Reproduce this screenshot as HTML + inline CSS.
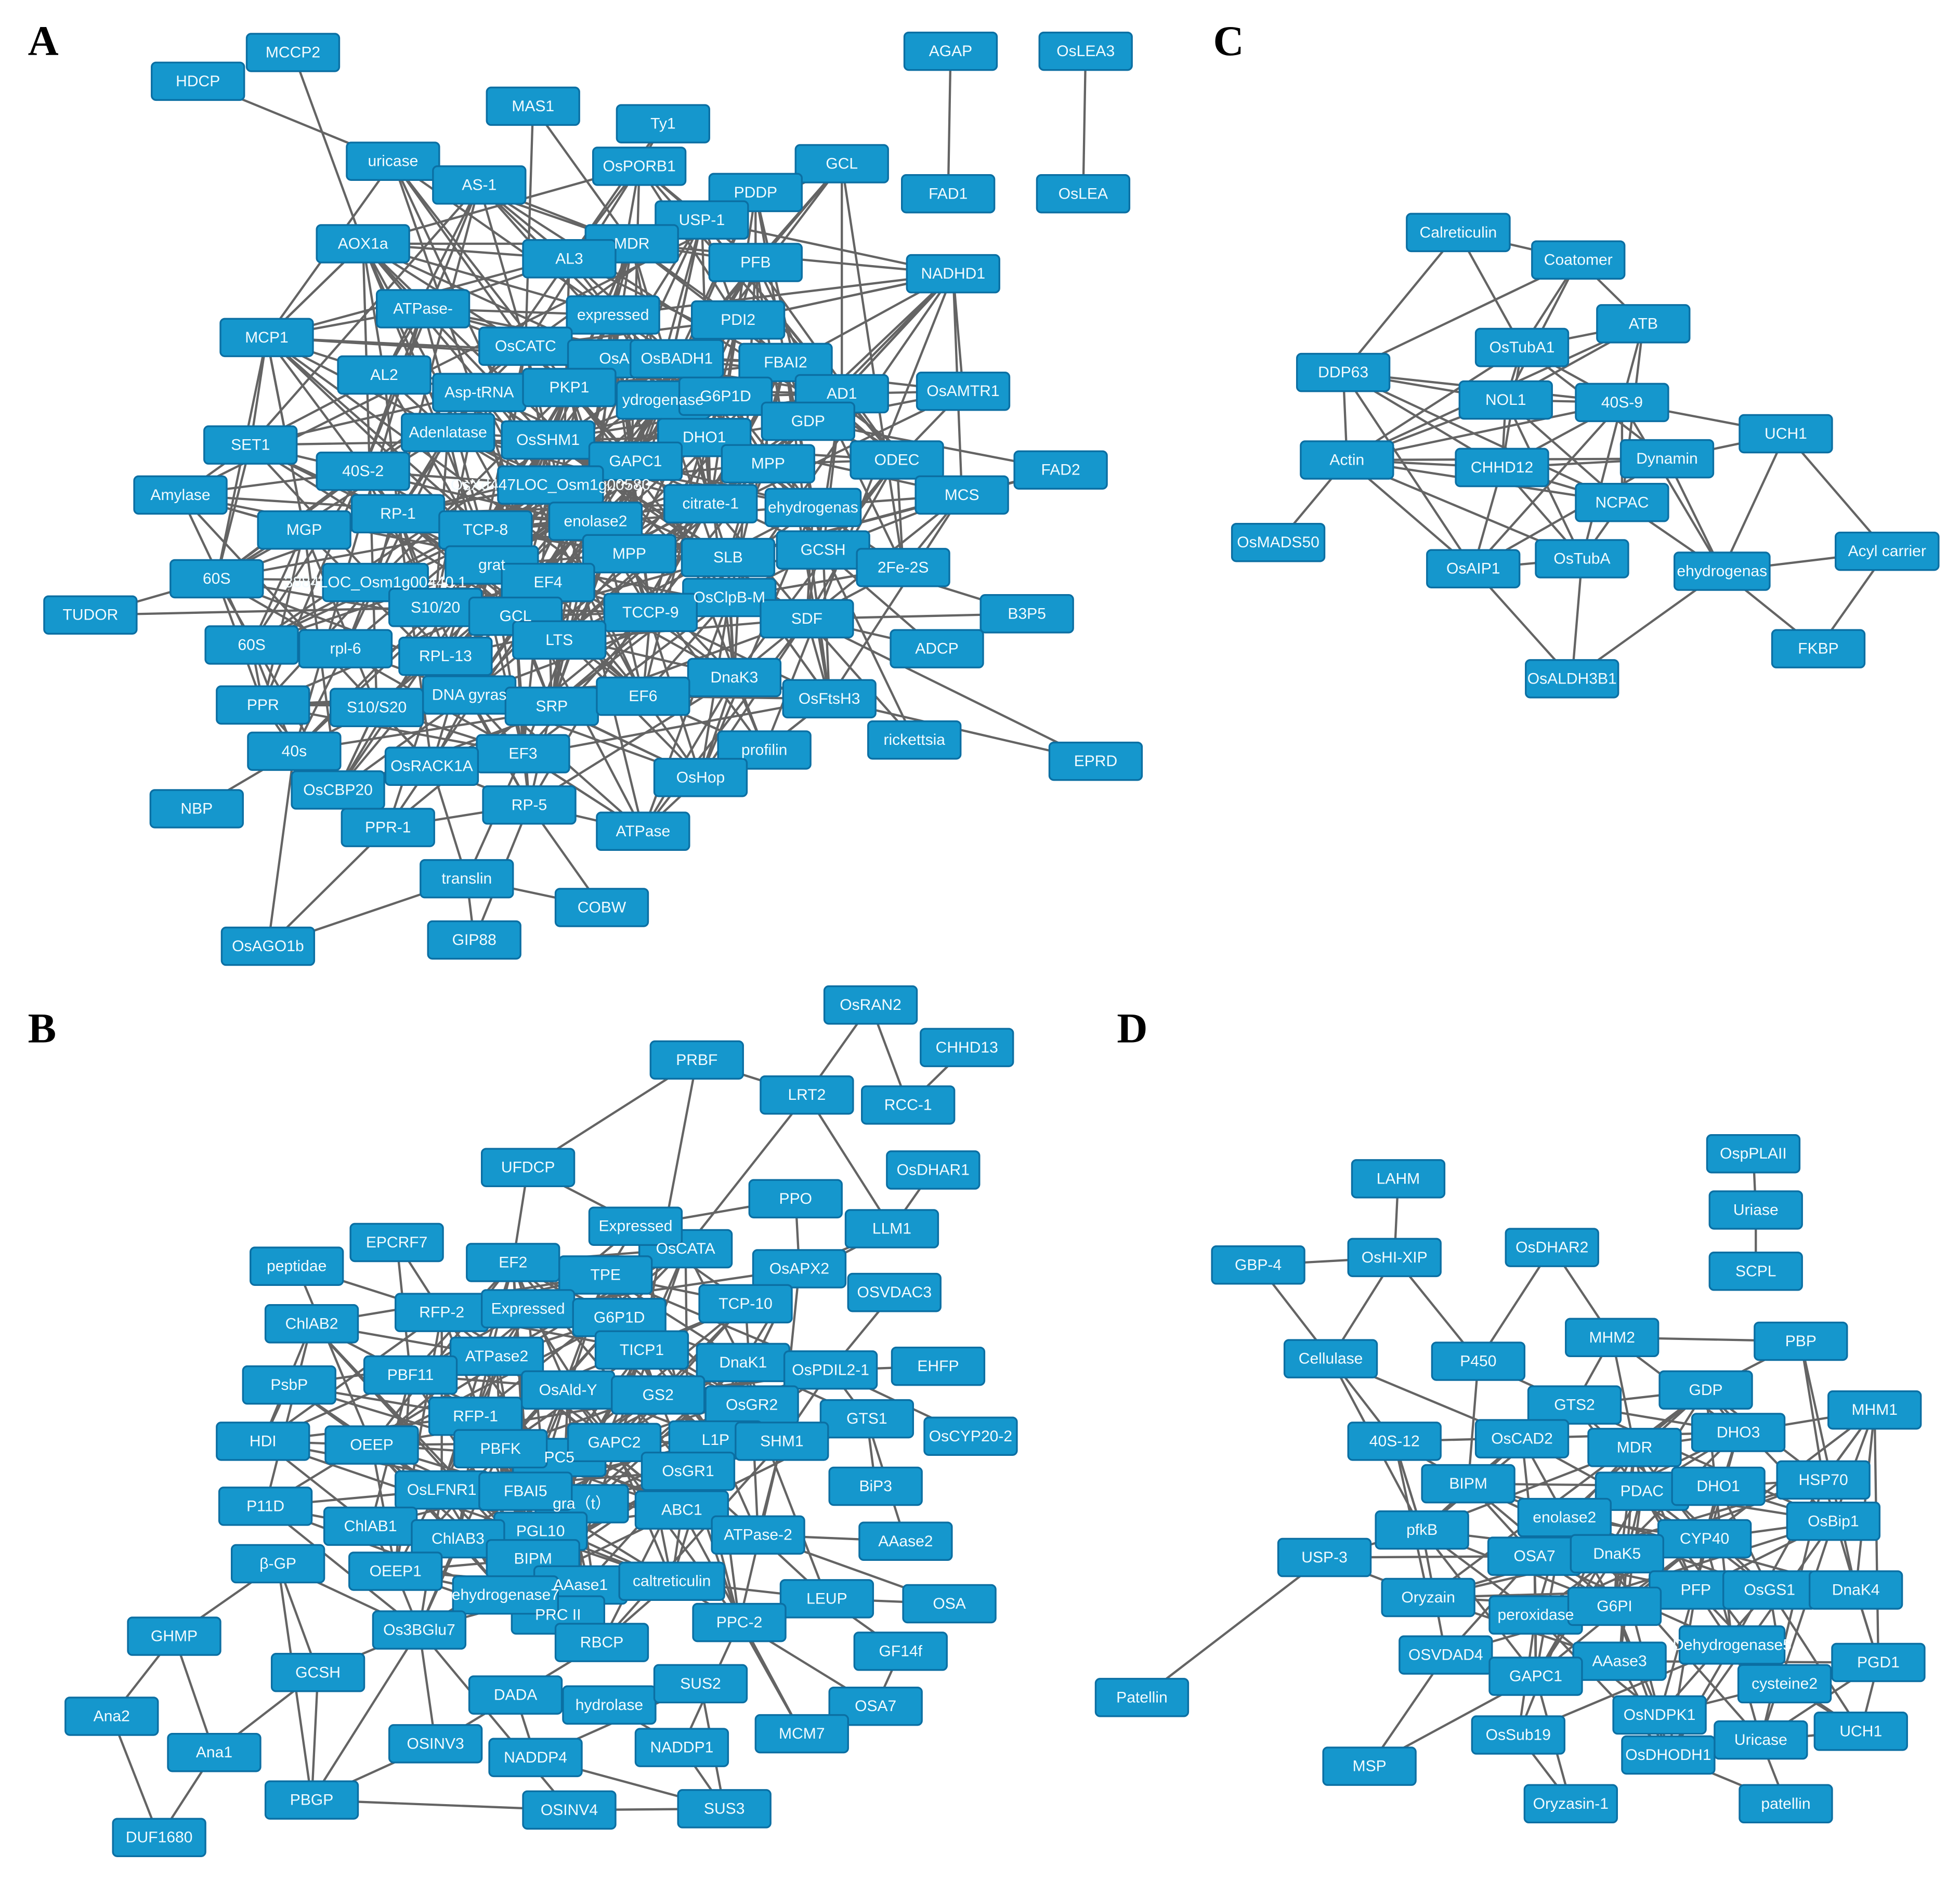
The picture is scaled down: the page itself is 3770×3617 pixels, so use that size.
<!DOCTYPE html>
<html><head><meta charset="utf-8"><style>
html,body{margin:0;padding:0;background:#fff;}
svg{display:block;}
.lab text{font-family:"Liberation Sans",sans-serif;font-size:12.5px;fill:#f2fbff;text-anchor:middle;dominant-baseline:central;}
.big{font-family:"Liberation Serif",serif;font-weight:bold;font-size:34px;fill:#000;}
</style></head><body>
<svg id="s" width="3770" height="3617" viewBox="0 0 1567 1504" xmlns="http://www.w3.org/2000/svg">
<g id="edges" stroke="#646464" stroke-width="1.8" fill="none"></g>
<g id="rects"></g>
<text class="big" x="22" y="44">A</text>
<text class="big" x="970" y="44">C</text>
<text class="big" x="22" y="834">B</text>
<text class="big" x="893" y="834">D</text>
<g class="lab" id="A">
<text x="158" y="65">HDCP</text><text x="234" y="42">MCCP2</text><text x="760" y="41">AGAP</text><text x="868" y="41">OsLEA3</text>
<text x="426" y="85">MAS1</text><text x="530" y="99">Ty1</text><text x="314" y="129">uricase</text><text x="383" y="148">AS-1</text>
<text x="511" y="133">OsPORB1</text><text x="673" y="131">GCL</text><text x="758" y="155">FAD1</text><text x="866" y="155">OsLEA</text>
<text x="604" y="154">PDDP</text><text x="561" y="176">USP-1</text><text x="290" y="195">AOX1a</text><text x="505" y="195">MDR</text>
<text x="455" y="207">AL3</text><text x="604" y="210">PFB</text><text x="762" y="219">NADHD1</text><text x="338" y="247">ATPase-</text>
<text x="490" y="252">expressed</text><text x="590" y="256">PDI2</text><text x="213" y="270">MCP1</text><text x="420" y="277">OsCATC</text>
<text x="491" y="287">OsA</text><text x="541" y="287">OsBADH1</text><text x="628" y="290">FBAI2</text><text x="307" y="300">AL2</text>
<text x="383" y="314">Asp-tRNA</text><text x="455" y="310">PKP1</text><text x="530" y="320">ydrogenase</text><text x="580" y="317">G6P1D</text>
<text x="673" y="315">AD1</text><text x="770" y="313">OsAMTR1</text><text x="358" y="346">Adenlatase</text><text x="438" y="352">OsSHM1</text>
<text x="563" y="350">DHO1</text><text x="646" y="337">GDP</text><text x="200" y="356">SET1</text><text x="508" y="369">GAPC1</text>
<text x="614" y="371">MPP</text><text x="717" y="368">ODEC</text><text x="848" y="376">FAD2</text><text x="290" y="377">40S-2</text>
<text x="440" y="388">OsXd447LOC_Osm1g00580</text><text x="144" y="396">Amylase</text><text x="318" y="411">RP-1</text><text x="568" y="403">citrate-1</text>
<text x="650" y="406">ehydrogenas</text><text x="769" y="396">MCS</text><text x="243" y="424">MGP</text><text x="388" y="424">TCP-8</text>
<text x="476" y="417">enolase2</text><text x="658" y="440">GCSH</text><text x="503" y="443">MPP</text><text x="582" y="446">SLB</text>
<text x="722" y="454">2Fe-2S</text><text x="173" y="463">60S</text><text x="300" y="466">3884LOC_Osm1g00440.1</text><text x="393" y="452">grat</text>
<text x="438" y="466">EF4</text><text x="348" y="486">S10/20</text><text x="412" y="493">GCL</text><text x="583" y="478">OsClpB-M</text>
<text x="520" y="490">TCCP-9</text><text x="645" y="495">SDF</text><text x="821" y="491">B3P5</text><text x="72" y="492">TUDOR</text>
<text x="201" y="516">60S</text><text x="276" y="519">rpl-6</text><text x="356" y="525">RPL-13</text><text x="447" y="512">LTS</text>
<text x="749" y="519">ADCP</text><text x="587" y="542">DnaK3</text><text x="375" y="556">DNA gyras</text><text x="441" y="565">SRP</text>
<text x="514" y="557">EF6</text><text x="663" y="559">OsFtsH3</text><text x="210" y="564">PPR</text><text x="301" y="566">S10/S20</text>
<text x="235" y="601">40s</text><text x="418" y="603">EF3</text><text x="345" y="613">OsRACK1A</text><text x="611" y="600">profilin</text>
<text x="731" y="592">rickettsia</text><text x="876" y="609">EPRD</text><text x="560" y="622">OsHop</text><text x="270" y="632">OsCBP20</text>
<text x="423" y="644">RP-5</text><text x="157" y="647">NBP</text><text x="310" y="662">PPR-1</text><text x="514" y="665">ATPase</text>
<text x="373" y="703">translin</text><text x="481" y="726">COBW</text><text x="379" y="752">GIP88</text><text x="214" y="757">OsAGO1b</text>
</g>
<g class="lab" id="B">
<text x="696" y="804">OsRAN2</text><text x="773" y="838">CHHD13</text><text x="557" y="848">PRBF</text><text x="645" y="876">LRT2</text>
<text x="726" y="884">RCC-1</text><text x="422" y="934">UFDCP</text><text x="746" y="936">OsDHAR1</text><text x="636" y="959">PPO</text>
<text x="713" y="983">LLM1</text><text x="317" y="994">EPCRF7</text><text x="548" y="999">OsCATA</text><text x="508" y="981">Expressed</text>
<text x="410" y="1010">EF2</text><text x="237" y="1013">peptidae</text><text x="484" y="1020">TPE</text><text x="639" y="1015">OsAPX2</text>
<text x="715" y="1034">OSVDAC3</text><text x="353" y="1050">RFP-2</text><text x="422" y="1047">Expressed</text><text x="495" y="1054">G6P1D</text>
<text x="596" y="1043">TCP-10</text><text x="249" y="1059">ChlAB2</text><text x="397" y="1085">ATPase2</text><text x="513" y="1080">TICP1</text>
<text x="594" y="1090">DnaK1</text><text x="664" y="1096">OsPDIL2-1</text><text x="750" y="1093">EHFP</text><text x="231" y="1108">PsbP</text>
<text x="328" y="1100">PBF11</text><text x="454" y="1112">OsAld-Y</text><text x="526" y="1116">GS2</text><text x="601" y="1124">OsGR2</text>
<text x="693" y="1135">GTS1</text><text x="380" y="1133">RFP-1</text><text x="210" y="1153">HDI</text><text x="297" y="1156">OEEP</text>
<text x="447" y="1166">PC5</text><text x="491" y="1154">GAPC2</text><text x="400" y="1159">PBFK</text><text x="572" y="1152">L1P</text>
<text x="625" y="1153">SHM1</text><text x="776" y="1149">OsCYP20-2</text><text x="550" y="1177">OsGR1</text><text x="465" y="1203">gra（t）</text>
<text x="353" y="1192">OsLFNR1</text><text x="420" y="1193">FBAI5</text><text x="700" y="1189">BiP3</text>
<text x="212" y="1205">P11D</text><text x="545" y="1208">ABC1</text><text x="296" y="1221">ChlAB1</text><text x="432" y="1225">PGL10</text>
<text x="366" y="1231">ChlAB3</text><text x="606" y="1228">ATPase-2</text><text x="724" y="1233">AAase2</text><text x="222" y="1251">β-GP</text>
<text x="426" y="1247">BIPM</text><text x="316" y="1257">OEEP1</text><text x="464" y="1268">AAase1</text><text x="537" y="1265">caltreticulin</text>
<text x="446" y="1292">PRC II</text><text x="404" y="1276">ehydrogenase7</text><text x="661" y="1279">LEUP</text><text x="759" y="1283">OSA</text>
<text x="139" y="1309">GHMP</text><text x="335" y="1304">Os3BGlu7</text><text x="481" y="1314">RBCP</text><text x="591" y="1298">PPC-2</text>
<text x="720" y="1321">GF14f</text><text x="254" y="1338">GCSH</text><text x="412" y="1356">DADA</text><text x="487" y="1364">hydrolase</text>
<text x="560" y="1347">SUS2</text><text x="700" y="1365">OSA7</text><text x="641" y="1387">MCM7</text><text x="89" y="1373">Ana2</text>
<text x="171" y="1402">Ana1</text><text x="348" y="1395">OSINV3</text><text x="428" y="1406">NADDP4</text><text x="545" y="1398">NADDP1</text>
<text x="249" y="1440">PBGP</text><text x="455" y="1448">OSINV4</text><text x="579" y="1447">SUS3</text><text x="127" y="1470">DUF1680</text>
</g>
<g class="lab" id="C">
<text x="1166" y="186">Calreticulin</text><text x="1262" y="208">Coatomer</text><text x="1314" y="259">ATB</text><text x="1217" y="278">OsTubA1</text>
<text x="1074" y="298">DDP63</text><text x="1204" y="320">NOL1</text><text x="1297" y="322">40S-9</text><text x="1428" y="347">UCH1</text>
<text x="1077" y="368">Actin</text><text x="1201" y="374">CHHD12</text><text x="1333" y="367">Dynamin</text><text x="1297" y="402">NCPAC</text>
<text x="1022" y="434">OsMADS50</text><text x="1178" y="455">OsAIP1</text><text x="1265" y="447">OsTubA</text><text x="1377" y="457">ehydrogenas</text>
<text x="1509" y="441">Acyl carrier</text><text x="1454" y="519">FKBP</text><text x="1257" y="543">OsALDH3B1</text>
</g>
<g class="lab" id="D">
<text x="1402" y="923">OspPLAII</text><text x="1404" y="968">Uriase</text><text x="1404" y="1017">SCPL</text><text x="1118" y="943">LAHM</text>
<text x="1241" y="998">OsDHAR2</text><text x="1006" y="1012">GBP-4</text><text x="1115" y="1006">OsHI-XIP</text><text x="1064" y="1087">Cellulase</text>
<text x="1182" y="1089">P450</text><text x="1289" y="1070">MHM2</text><text x="1440" y="1073">PBP</text><text x="1259" y="1124">GTS2</text>
<text x="1364" y="1112">GDP</text><text x="1499" y="1128">MHM1</text><text x="1115" y="1153">40S-12</text><text x="1217" y="1151">OsCAD2</text>
<text x="1307" y="1158">MDR</text><text x="1390" y="1146">DHO3</text><text x="1174" y="1187">BIPM</text><text x="1313" y="1193">PDAC</text>
<text x="1374" y="1189">DHO1</text><text x="1458" y="1184">HSP70</text><text x="1137" y="1224">pfkB</text><text x="1251" y="1214">enolase2</text>
<text x="1363" y="1231">CYP40</text><text x="1466" y="1217">OsBip1</text><text x="1059" y="1246">USP-3</text><text x="1227" y="1245">OSA7</text>
<text x="1293" y="1243">DnaK5</text><text x="1142" y="1278">Oryzain</text><text x="1356" y="1272">PFP</text><text x="1415" y="1272">OsGS1</text>
<text x="1484" y="1272">DnaK4</text><text x="1228" y="1292">peroxidase</text><text x="1291" y="1285">G6PI</text><text x="913" y="1358">Patellin</text>
<text x="1156" y="1324">OSVDAD4</text><text x="1295" y="1329">AAase3</text><text x="1385" y="1316">Dehydrogenase5</text><text x="1502" y="1330">PGD1</text>
<text x="1228" y="1341">GAPC1</text><text x="1427" y="1347">cysteine2</text><text x="1327" y="1372">OsNDPK1</text><text x="1095" y="1413">MSP</text>
<text x="1214" y="1388">OsSub19</text><text x="1408" y="1392">Uricase</text><text x="1488" y="1385">UCH1</text><text x="1334" y="1404">OsDHODH1</text>
<text x="1256" y="1443">Oryzasin-1</text><text x="1428" y="1443">patellin</text>
</g>
</svg>
<script>
(function(){
var NS="http://www.w3.org/2000/svg";
var E=document.getElementById("edges"),R=document.getElementById("rects");
var P={},L={};
["A","B","C","D"].forEach(function(p){
  P[p]={};L[p]=[];
  var ts=document.getElementById(p).getElementsByTagName("text");
  for(var i=0;i<ts.length;i++){
    var t=ts[i],x=+t.getAttribute("x"),y=+t.getAttribute("y"),s=t.textContent;
    var w=74; if(s.length>10) w=Math.min(84,s.length*6.2+8);
    var r=document.createElementNS(NS,"rect");
    r.setAttribute("x",x-w/2);r.setAttribute("y",y-15);r.setAttribute("width",w);r.setAttribute("height",30);
    r.setAttribute("rx",3.5);r.setAttribute("fill","#1597cd");r.setAttribute("stroke","#0b6fa3");r.setAttribute("stroke-width","1.4");
    R.appendChild(r);
    var n={x:x,y:y,s:s}; if(!P[p][s])P[p][s]=n; L[p].push(n);
  }
});
function line(a,b){if(!a||!b)return;var l=document.createElementNS(NS,"line");
 l.setAttribute("x1",a.x);l.setAttribute("y1",a.y);l.setAttribute("x2",b.x);l.setAttribute("y2",b.y);E.appendChild(l);}
var ex={
A:"HDCP-uricase,MCCP2-AOX1a,AGAP-FAD1,OsLEA3-OsLEA,MAS1-MDR,Ty1-OsPORB1,uricase-expressed,uricase-OsCATC,AOX1a-MCP1,AOX1a-AL3,NADHD1-AD1,NADHD1-PDI2,NADHD1-MDR,FAD2-MCS,FAD2-GDP,FAD2-SLB,B3P5-SDF,B3P5-GCSH,ADCP-GCSH,EPRD-DnaK3,rickettsia-SDF,rickettsia-GCSH,TUDOR-60S,NBP-40s,OsAGO1b-translin,OsAGO1b-PPR-1,translin-COBW,translin-GIP88,translin-OsRACK1A,translin-EF3,COBW-RP-5,ATPase-EF3,ATPase-DnaK3,OsHop-DnaK3,OsHop-EF6,profilin-OsFtsH3,profilin-EF6,Amylase-GCL,Amylase-MGP,SET1-MCP1,MCP1-60S,MCP1-AL2,MCP1-RP-1,MCP1-MGP,MCP1-TCP-8,GCL-PFB,GCL-ydrogenase,GCL-AD1,MDR-AS-1,PDDP-GDP,MAS1-OsCATC,Ty1-AL3,AS-1-OsCATC,AS-1-40S-2,AS-1-AL2,MCS-ODEC,MCS-DHO1,OsAMTR1-GDP,OsAMTR1-ODEC,ADCP-SDF,OsFtsH3-SDF,OsFtsH3-SLB,EPRD-SDF,PPR-EF3,OsCBP20-S10/S20,GIP88-RP-5,OsAGO1b-40s,60S-SRP,TUDOR-S10/20",
B:"OsRAN2-LRT2,OsRAN2-RCC-1,CHHD13-RCC-1,PRBF-UFDCP,PRBF-LRT2,PRBF-TICP1,LRT2-OsCATA,LRT2-LLM1,UFDCP-EF2,UFDCP-OsCATA,PPO-Expressed,PPO-OsAPX2,OsDHAR1-LLM1,LLM1-OsAPX2,LLM1-TCP-10,OSVDAC3-OsPDIL2-1,EHFP-OsPDIL2-1,OsCYP20-2-OsPDIL2-1,Ana2-GHMP,Ana2-DUF1680,Ana1-GHMP,Ana1-DUF1680,Ana1-GCSH,β-GP-GCSH,β-GP-PBGP,β-GP-GHMP,β-GP-Os3BGlu7,GCSH-PBGP,GCSH-Os3BGlu7,PBGP-OSINV4,PBGP-Os3BGlu7,PBGP-OSINV3,OSINV4-SUS3,NADDP4-SUS3,NADDP1-SUS3,SUS2-SUS3,OSINV3-DADA,OSINV3-Os3BGlu7,NADDP4-DADA,NADDP4-SUS2,OSA-LEUP,OSA-ATPase-2,OSA7-GF14f,OSA7-PPC-2,MCM7-PPC-2,MCM7-ABC1,GF14f-LEUP,AAase2-ATPase-2,AAase2-GTS1,BiP3-GTS1,peptidae-RFP-2,peptidae-OEEP,EPCRF7-RFP-2,EPCRF7-PBF11,OSINV4-Os3BGlu7,hydrolase-NADDP1,RBCP-DADA,NADDP1-PPC-2",
C:"Calreticulin-Coatomer,Calreticulin-DDP63,Calreticulin-OsTubA1,Coatomer-DDP63,Coatomer-OsTubA1,Coatomer-ATB,Coatomer-NOL1,ATB-OsTubA1,ATB-40S-9,ATB-Actin,ATB-NOL1,ATB-NCPAC,DDP63-NOL1,DDP63-40S-9,DDP63-Actin,DDP63-CHHD12,DDP63-OsAIP1,DDP63-NCPAC,OsTubA1-NOL1,OsTubA1-40S-9,OsTubA1-Actin,OsTubA1-CHHD12,OsTubA1-Dynamin,NOL1-40S-9,NOL1-Actin,NOL1-CHHD12,NOL1-OsTubA,NOL1-NCPAC,40S-9-UCH1,40S-9-Actin,40S-9-CHHD12,40S-9-NCPAC,40S-9-OsAIP1,40S-9-OsTubA,40S-9-ehydrogenas,Actin-CHHD12,Actin-Dynamin,Actin-OsMADS50,Actin-OsAIP1,Actin-OsTubA,Actin-NCPAC,CHHD12-Dynamin,CHHD12-NCPAC,CHHD12-OsAIP1,CHHD12-OsTubA,Dynamin-UCH1,Dynamin-ehydrogenas,Dynamin-OsAIP1,NCPAC-OsTubA,NCPAC-ehydrogenas,UCH1-ehydrogenas,UCH1-Acyl carrier,Acyl carrier-ehydrogenas,Acyl carrier-FKBP,ehydrogenas-FKBP,ehydrogenas-OsALDH3B1,OsAIP1-OsALDH3B1,OsTubA-OsALDH3B1,OsAIP1-OsTubA",
D:"OspPLAII-Uriase,Uriase-SCPL,LAHM-OsHI-XIP,GBP-4-OsHI-XIP,GBP-4-Cellulase,OsHI-XIP-Cellulase,OsHI-XIP-P450,Cellulase-40S-12,Cellulase-OsCAD2,Cellulase-pfkB,OsDHAR2-P450,OsDHAR2-MHM2,P450-GTS2,P450-BIPM,Patellin-USP-3,USP-3-pfkB,USP-3-OSA7,USP-3-Oryzain,MSP-OSVDAD4,MSP-GAPC1,PBP-GDP,PBP-DnaK4,PBP-MHM2,PBP-HSP70,MHM1-DHO3,MHM1-DnaK4,MHM1-HSP70,MHM1-OsBip1,MHM2-GTS2,MHM2-MDR,MHM2-DHO3,OsSub19-Oryzasin-1,GAPC1-Oryzasin-1,OsDHODH1-patellin,Uricase-patellin,UCH1-cysteine2,UCH1-Uricase,PGD1-DnaK4,40S-12-BIPM,40S-12-pfkB"
};
for(var p in ex){ex[p].split(",").forEach(function(e){
  var s=e.split("-"),a,b;
  for(var k=1;k<s.length;k++){var x=s.slice(0,k).join("-"),y=s.slice(k).join("-");if(P[p][x]&&P[p][y]){a=P[p][x];b=P[p][y];break;}}
  line(a,b);});}
var seed=12345;function rnd(){seed=(seed*1103515245+12345)%2147483648;return seed/2147483648;}
var cfg={
A:{p:1.0,sc:120,skip:{"AGAP":1,"FAD1":1,"OsLEA3":1,"OsLEA":1,"TUDOR":1,"NBP":1,"EPRD":1,"B3P5":1,"HDCP":1,"MCCP2":1,"OsAGO1b":1,"GIP88":1,"COBW":1,"MAS1":1,"Ty1":1,"translin":1,"rickettsia":1,"ADCP":1,"FAD2":1}},
B:{p:1.0,sc:110,skip:{"OsRAN2":1,"CHHD13":1,"RCC-1":1,"LRT2":1,"PRBF":1,"UFDCP":1,"OsDHAR1":1,"Ana2":1,"Ana1":1,"DUF1680":1,"GHMP":1,"PBGP":1,"OSINV4":1,"SUS3":1,"OSA":1,"GF14f":1,"OSA7":1,"MCM7":1,"EHFP":1,"OsCYP20-2":1,"AAase2":1,"BiP3":1,"peptidae":1,"EPCRF7":1,"β-GP":1,"GCSH":1,"OSINV3":1,"NADDP4":1,"NADDP1":1,"SUS2":1,"DADA":1,"hydrolase":1,"PPO":1,"LLM1":1,"OSVDAC3":1}},
D:{p:1.0,sc:105,skip:{"OspPLAII":1,"Uriase":1,"SCPL":1,"LAHM":1,"GBP-4":1,"OsHI-XIP":1,"OsDHAR2":1,"Cellulase":1,"P450":1,"Patellin":1,"MSP":1,"USP-3":1,"Oryzasin-1":1,"patellin":1,"PBP":1,"MHM2":1}}
};
for(var p in cfg){var c=cfg[p],ns=L[p].filter(function(n){return !c.skip[n.s];});
 for(var i=0;i<ns.length;i++)for(var j=i+1;j<ns.length;j++){
  var a=ns[i],b=ns[j],d=Math.hypot(a.x-b.x,a.y-b.y);
  var pr=c.p*Math.exp(-d/c.sc);
  if(rnd()<pr)line(a,b);}
}
})();
</script>
</body></html>
